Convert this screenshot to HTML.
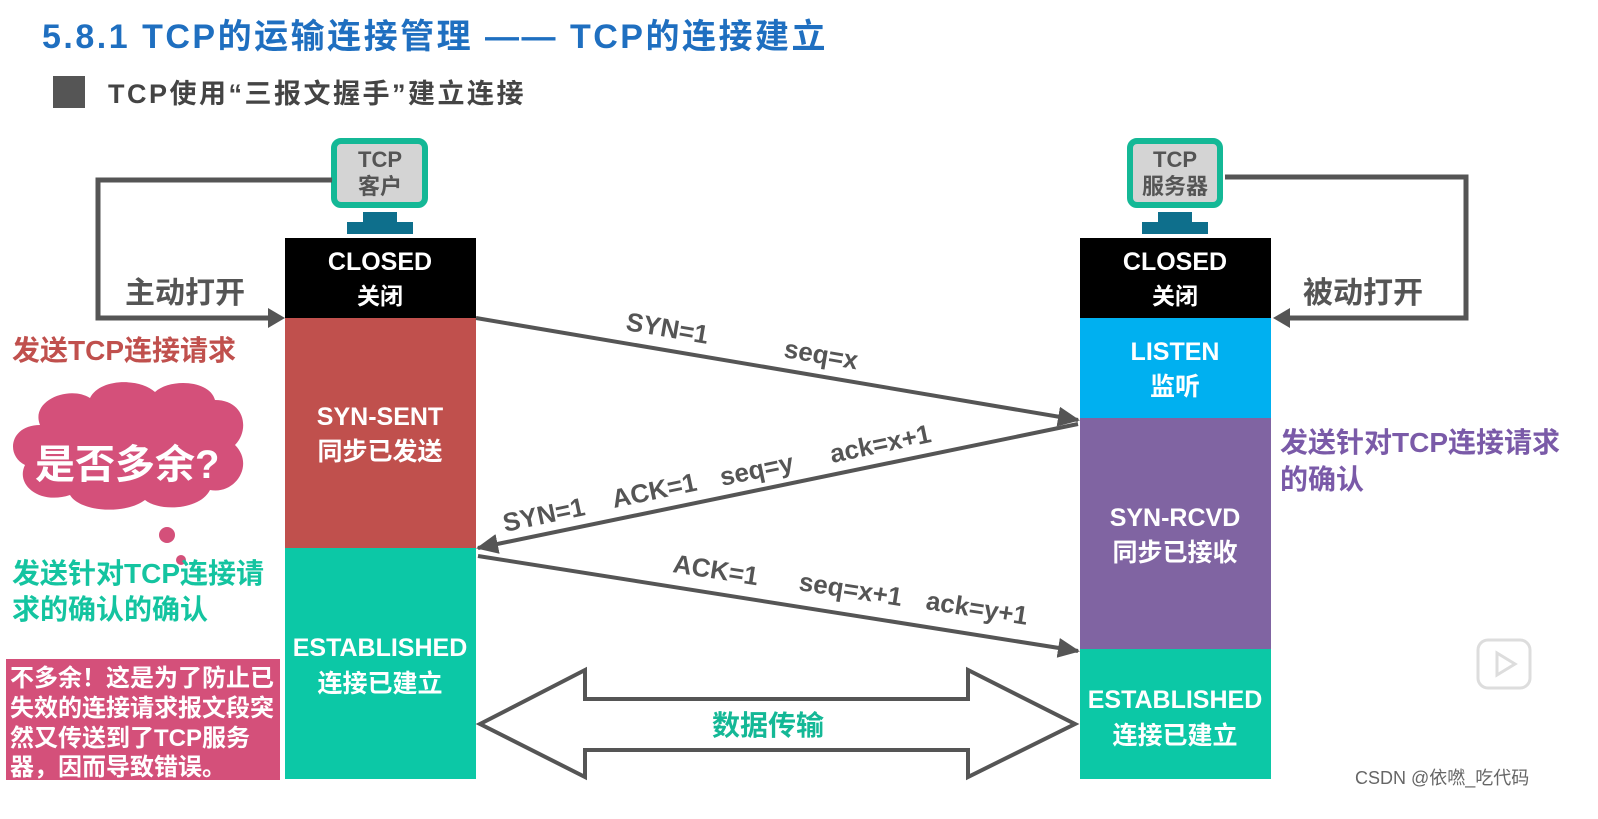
<!DOCTYPE html>
<html><head><meta charset="utf-8"><style>
body{margin:0;background:#fff;}
svg text{font-family:"Liberation Sans","Noto Sans CJK SC",sans-serif;font-weight:bold;}
</style></head><body>
<svg width="1598" height="814" viewBox="0 0 1598 814" xmlns="http://www.w3.org/2000/svg">
<defs>
<marker id="ah2" markerWidth="22" markerHeight="20" refX="20" refY="10" orient="auto" markerUnits="userSpaceOnUse"><path d="M0,0 L22,10 L0,20 Z" fill="#555"/></marker>
</defs>
<text x="42" y="48" font-size="34" fill="#1f6fc0" letter-spacing="2.5">5.8.1 TCP的运输连接管理 —— TCP的连接建立</text>
<rect x="53" y="76" width="32" height="32" fill="#555"/>
<text x="108" y="103" font-size="27" fill="#444" letter-spacing="2.5">TCP使用“三报文握手”建立连接</text>

<g>
<rect x="334" y="141" width="91" height="64" rx="7" fill="#d4d4d4" stroke="#14b896" stroke-width="6"/>
<text x="380" y="167" font-size="22" fill="#555" text-anchor="middle">TCP</text>
<text x="380" y="194" font-size="22" fill="#555" text-anchor="middle">客户</text>
<rect x="363" y="212" width="34" height="10" fill="#0e6f8c"/><rect x="347" y="222" width="66" height="12" fill="#0e6f8c"/>
</g>
<g>
<rect x="1130" y="141" width="90" height="64" rx="7" fill="#d4d4d4" stroke="#14b896" stroke-width="6"/>
<text x="1175" y="167" font-size="22" fill="#555" text-anchor="middle">TCP</text>
<text x="1175" y="194" font-size="22" fill="#555" text-anchor="middle">服务器</text>
<rect x="1158" y="212" width="34" height="10" fill="#0e6f8c"/><rect x="1142" y="222" width="66" height="12" fill="#0e6f8c"/>
</g>

<path d="M332,180 L98,180 L98,318 L270,318" fill="none" stroke="#555" stroke-width="5"/>
<path d="M268,308 L285,318 L268,328 Z" fill="#555"/>
<path d="M1225,177 L1466,177 L1466,318 L1290,318" fill="none" stroke="#555" stroke-width="5"/>
<path d="M1290,308 L1273,318 L1290,328 Z" fill="#555"/>
<text x="125" y="303" font-size="30" fill="#555">主动打开</text>
<text x="1303" y="303" font-size="30" fill="#555">被动打开</text>

<rect x="285" y="238" width="191" height="80" fill="#000"/>
<text x="380" y="270" font-size="25" fill="#fff" text-anchor="middle">CLOSED</text>
<text x="380" y="304" font-size="23" fill="#fff" text-anchor="middle">关闭</text>
<rect x="285" y="318" width="191" height="230" fill="#c0504d"/>
<text x="380" y="425" font-size="25" fill="#fff" text-anchor="middle">SYN-SENT</text>
<text x="380" y="460" font-size="25" fill="#fff" text-anchor="middle">同步已发送</text>
<rect x="285" y="548" width="191" height="231" fill="#0cc8a6"/>
<text x="380" y="656" font-size="25" fill="#fff" text-anchor="middle">ESTABLISHED</text>
<text x="380" y="692" font-size="25" fill="#fff" text-anchor="middle">连接已建立</text>

<rect x="1080" y="238" width="191" height="80" fill="#000"/>
<text x="1175" y="270" font-size="25" fill="#fff" text-anchor="middle">CLOSED</text>
<text x="1175" y="304" font-size="23" fill="#fff" text-anchor="middle">关闭</text>
<rect x="1080" y="318" width="191" height="100" fill="#00b0f0"/>
<text x="1175" y="360" font-size="25" fill="#fff" text-anchor="middle">LISTEN</text>
<text x="1175" y="395" font-size="25" fill="#fff" text-anchor="middle">监听</text>
<rect x="1080" y="418" width="191" height="231" fill="#8064a2"/>
<text x="1175" y="526" font-size="25" fill="#fff" text-anchor="middle">SYN-RCVD</text>
<text x="1175" y="561" font-size="25" fill="#fff" text-anchor="middle">同步已接收</text>
<rect x="1080" y="649" width="191" height="130" fill="#0cc8a6"/>
<text x="1175" y="708" font-size="25" fill="#fff" text-anchor="middle">ESTABLISHED</text>
<text x="1175" y="744" font-size="25" fill="#fff" text-anchor="middle">连接已建立</text>

<line x1="476" y1="318" x2="1078" y2="420" stroke="#555" stroke-width="4" marker-end="url(#ah2)"/>
<line x1="1078" y1="424" x2="478" y2="548" stroke="#555" stroke-width="4" marker-end="url(#ah2)"/>
<line x1="478" y1="556" x2="1078" y2="651" stroke="#555" stroke-width="4" marker-end="url(#ah2)"/>
<g font-size="26" fill="#555">
<text transform="translate(625,330) rotate(9.6)">SYN=1</text>
<text transform="translate(783,357) rotate(9.6)">seq=x</text>
<text transform="translate(505,532) rotate(-11.9)">SYN=1</text>
<text transform="translate(614,508) rotate(-11.9)">ACK=1</text>
<text transform="translate(722,486) rotate(-11.9)">seq=y</text>
<text transform="translate(832,463) rotate(-11.9)">ack=x+1</text>
<text transform="translate(672,572) rotate(8.9)">ACK=1</text>
<text transform="translate(798,590) rotate(8.9)">seq=x+1</text>
<text transform="translate(925,609) rotate(8.9)">ack=y+1</text>
</g>

<path d="M480,724 L585,670 L585,699 L968,699 L968,670 L1075,724 L968,777 L968,750 L585,750 L585,777 Z" fill="#fff" stroke="#555" stroke-width="4"/>
<text x="768" y="735" font-size="28" fill="#14b896" text-anchor="middle">数据传输</text>

<text x="12" y="360" font-size="28" fill="#c0504d">发送TCP连接请求</text>
<path d="M40,425 C30,400 70,385 90,398 C100,378 140,378 155,392 C170,378 210,380 215,400 C245,400 250,430 235,445 C255,465 235,495 210,490 C200,510 160,512 145,500 C125,515 80,512 70,495 C40,505 15,485 25,465 C5,455 10,425 40,425 Z" fill="#d4507a"/>
<circle cx="167" cy="535" r="8" fill="#d4507a"/>
<circle cx="181" cy="560" r="5" fill="#d4507a"/>
<text x="35" y="478" font-size="40" fill="#fff">是否多余?</text>
<text x="12" y="583" font-size="28" fill="#14c4a0">发送针对TCP连接请</text>
<text x="12" y="619" font-size="28" fill="#14c4a0">求的确认的确认</text>
<rect x="6" y="659" width="274" height="121" fill="#d4507a"/>
<g font-size="24" fill="#fff">
<text x="10" y="686">不多余！这是为了防止已</text>
<text x="10" y="716">失效的连接请求报文段突</text>
<text x="10" y="746">然又传送到了TCP服务</text>
<text x="10" y="775">器，因而导致错误。</text>
</g>

<text x="1280" y="452" font-size="28" fill="#7a5aa8">发送针对TCP连接请求</text>
<text x="1280" y="489" font-size="28" fill="#7a5aa8">的确认</text>

<rect x="1478" y="640" width="52" height="48" rx="10" fill="none" stroke="#ddd" stroke-width="3"/>
<path d="M1497,653 L1515,664 L1497,675 Z" fill="none" stroke="#ddd" stroke-width="3"/>
<text x="1355" y="784" font-size="18" fill="#666" style="font-weight:normal">CSDN @依嘫_吃代码</text>
</svg>
</body></html>
